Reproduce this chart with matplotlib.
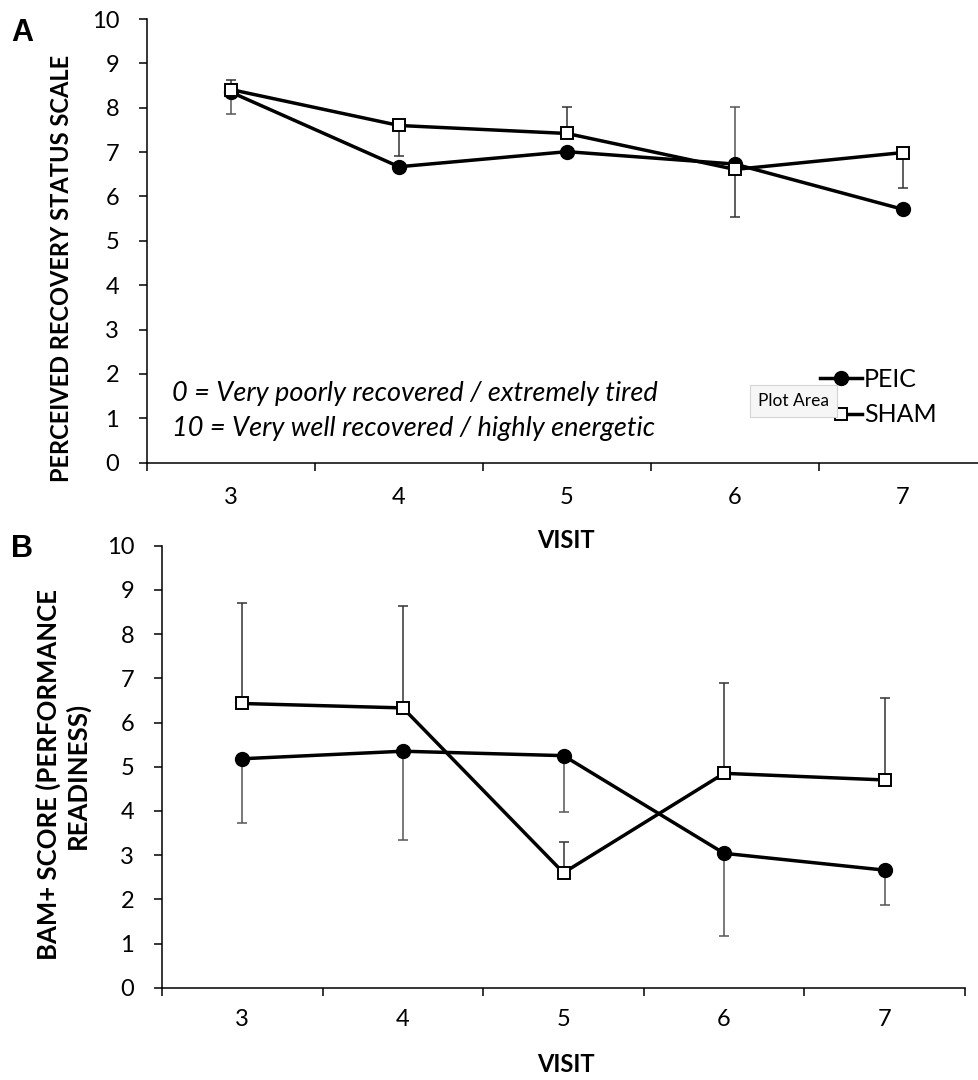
import numpy as np
import matplotlib
matplotlib.use('Agg')
import matplotlib.pyplot as plt
from matplotlib.lines import Line2D

# Data (mean values and one-sided error bars)
visits = ['3', '4', '5', '6', '7']

# Panel A - perceived recovery status scale
peic_a = [8.35, 6.67, 7.01, 6.73, 5.71]
sham_a = [8.41, 7.60, 7.42, 6.61, 6.99]
peic_a_lo = [0.48, 0, 0, 0, 0]
peic_a_hi = [0, 0, 0, 1.28, 0]
sham_a_lo = [0, 0.68, 0, 1.08, 0.79]
sham_a_hi = [0.21, 0, 0.59, 0, 0]

# Panel B - BAM+ performance readiness
peic_b = [5.18, 5.35, 5.25, 3.04, 2.66]
sham_b = [6.43, 6.33, 2.60, 4.85, 4.70]
peic_b_lo = [1.45, 2.01, 1.28, 1.86, 0.78]
peic_b_hi = [0, 0, 0, 0, 0]
sham_b_lo = [0, 0, 0, 0, 0]
sham_b_hi = [2.28, 2.30, 0.70, 2.04, 1.86]

plt.rcParams['font.family'] = ['Lato', 'DejaVu Sans']

W, H = 979, 1080
fig = plt.figure(figsize=(W / 100, H / 100), dpi=100)


def px(x, y):
    return x / W, 1 - y / H


def errbars(ax, x, y, lo, hi, color):
    lo = np.array(lo)
    hi = np.array(hi)
    m = (lo + hi) > 0
    ax.errorbar(x[m], np.array(y)[m], yerr=[lo[m], hi[m]], fmt='none',
                ecolor=color, elinewidth=1.1, capsize=3.5, capthick=1.1, zorder=2)


def setup(ax, xpad):
    x = np.arange(len(visits))
    ax.set_xlim(-0.5, len(visits) - 0.5)
    ax.set_ylim(0, 10)
    ax.set_yticks(range(0, 11))
    ax.set_xticks(np.arange(len(visits) + 1) - 0.5)
    ax.set_xticklabels([])
    ax.set_xticks(x, minor=True)
    ax.set_xticklabels(visits, minor=True)
    ax.tick_params(axis='x', which='major', length=6, width=1.1, direction='out')
    ax.tick_params(axis='x', which='minor', length=0, pad=xpad, labelsize=17)
    ax.tick_params(axis='y', length=6, width=1.1, direction='out', pad=14, labelsize=17)
    for s in ['top', 'right']:
        ax.spines[s].set_visible(False)
    for s in ['left', 'bottom']:
        ax.spines[s].set_linewidth(1.1)
    return x


def draw(ax, x, peic, sham, plo, phi, slo, shi):
    errbars(ax, x, peic, plo, phi, '#555555')
    errbars(ax, x, sham, slo, shi, '#333333')
    ax.plot(x, peic, color='black', lw=2.5, marker='o', ms=10,
            mfc='black', mec='black', zorder=3, label='PEIC')
    ax.plot(x, sham, color='black', lw=2.5, marker='s', ms=9,
            mfc='white', mec='black', mew=1.4, zorder=4, label='SHAM')


# Panel A
axA = fig.add_axes([147 / W, 1 - 462.7 / H, 840 / W, 443.7 / H])
xa = setup(axA, 17.5)
draw(axA, xa, peic_a, sham_a, peic_a_lo, peic_a_hi, sham_a_lo, sham_a_hi)

fig.text(*px(172, 394), '0 = Very poorly recovered / extremely tired',
         style='italic', fontsize=19.5, va='center', ha='left')
fig.text(*px(172, 429), '10 = Very well recovered / highly energetic',
         style='italic', fontsize=19.5, va='center', ha='left')

handles = [Line2D([], [], color='black', lw=2.5, marker='o', ms=10, mfc='black'),
           Line2D([], [], color='black', lw=2.5, marker='s', ms=9, mfc='white', mew=1.4)]
axA.legend(handles, ['PEIC', 'SHAM'], loc='upper left', frameon=False,
           bbox_to_anchor=px(820, 368), bbox_transform=fig.transFigure,
           borderpad=0, borderaxespad=0, handlelength=1.7, handletextpad=0.05,
           labelspacing=0.5, fontsize=18)

# Excel "Plot Area" tooltip captured in the source image
fig.text(*px(758, 401), 'Plot Area', fontsize=12.5, va='center', ha='left', zorder=10,
         bbox=dict(boxstyle='square,pad=0.45', facecolor='#f6f6f6', edgecolor='#d4d4d4', lw=0.8))

fig.text(*px(22, 33), 'A', fontsize=22, fontweight='bold', ha='center', va='center',
         family=['Liberation Sans', 'DejaVu Sans'])
fig.text(*px(62, 268), 'PERCEIVED RECOVERY STATUS SCALE', rotation=90, fontsize=17,
         fontweight='bold', ha='center', va='center')
fig.text(*px(566, 540), 'VISIT', fontsize=17, fontweight='bold', ha='center', va='center')

# Panel B
axB = fig.add_axes([162 / W, 1 - 987.7 / H, 803 / W, 442 / H])
xb = setup(axB, 15)
draw(axB, xb, peic_b, sham_b, peic_b_lo, peic_b_hi, sham_b_lo, sham_b_hi)

fig.text(*px(22, 549), 'B', fontsize=22, fontweight='bold', ha='center', va='center',
         family=['Liberation Sans', 'DejaVu Sans'])
fig.text(*px(63, 775), 'BAM+ SCORE (PERFORMANCE\nREADINESS)', rotation=90, fontsize=18.5,
         fontweight='bold', ha='center', va='center', linespacing=1.15)
fig.text(*px(566, 1065), 'VISIT', fontsize=17, fontweight='bold', ha='center', va='center')

fig.savefig('out.png', dpi=100)
